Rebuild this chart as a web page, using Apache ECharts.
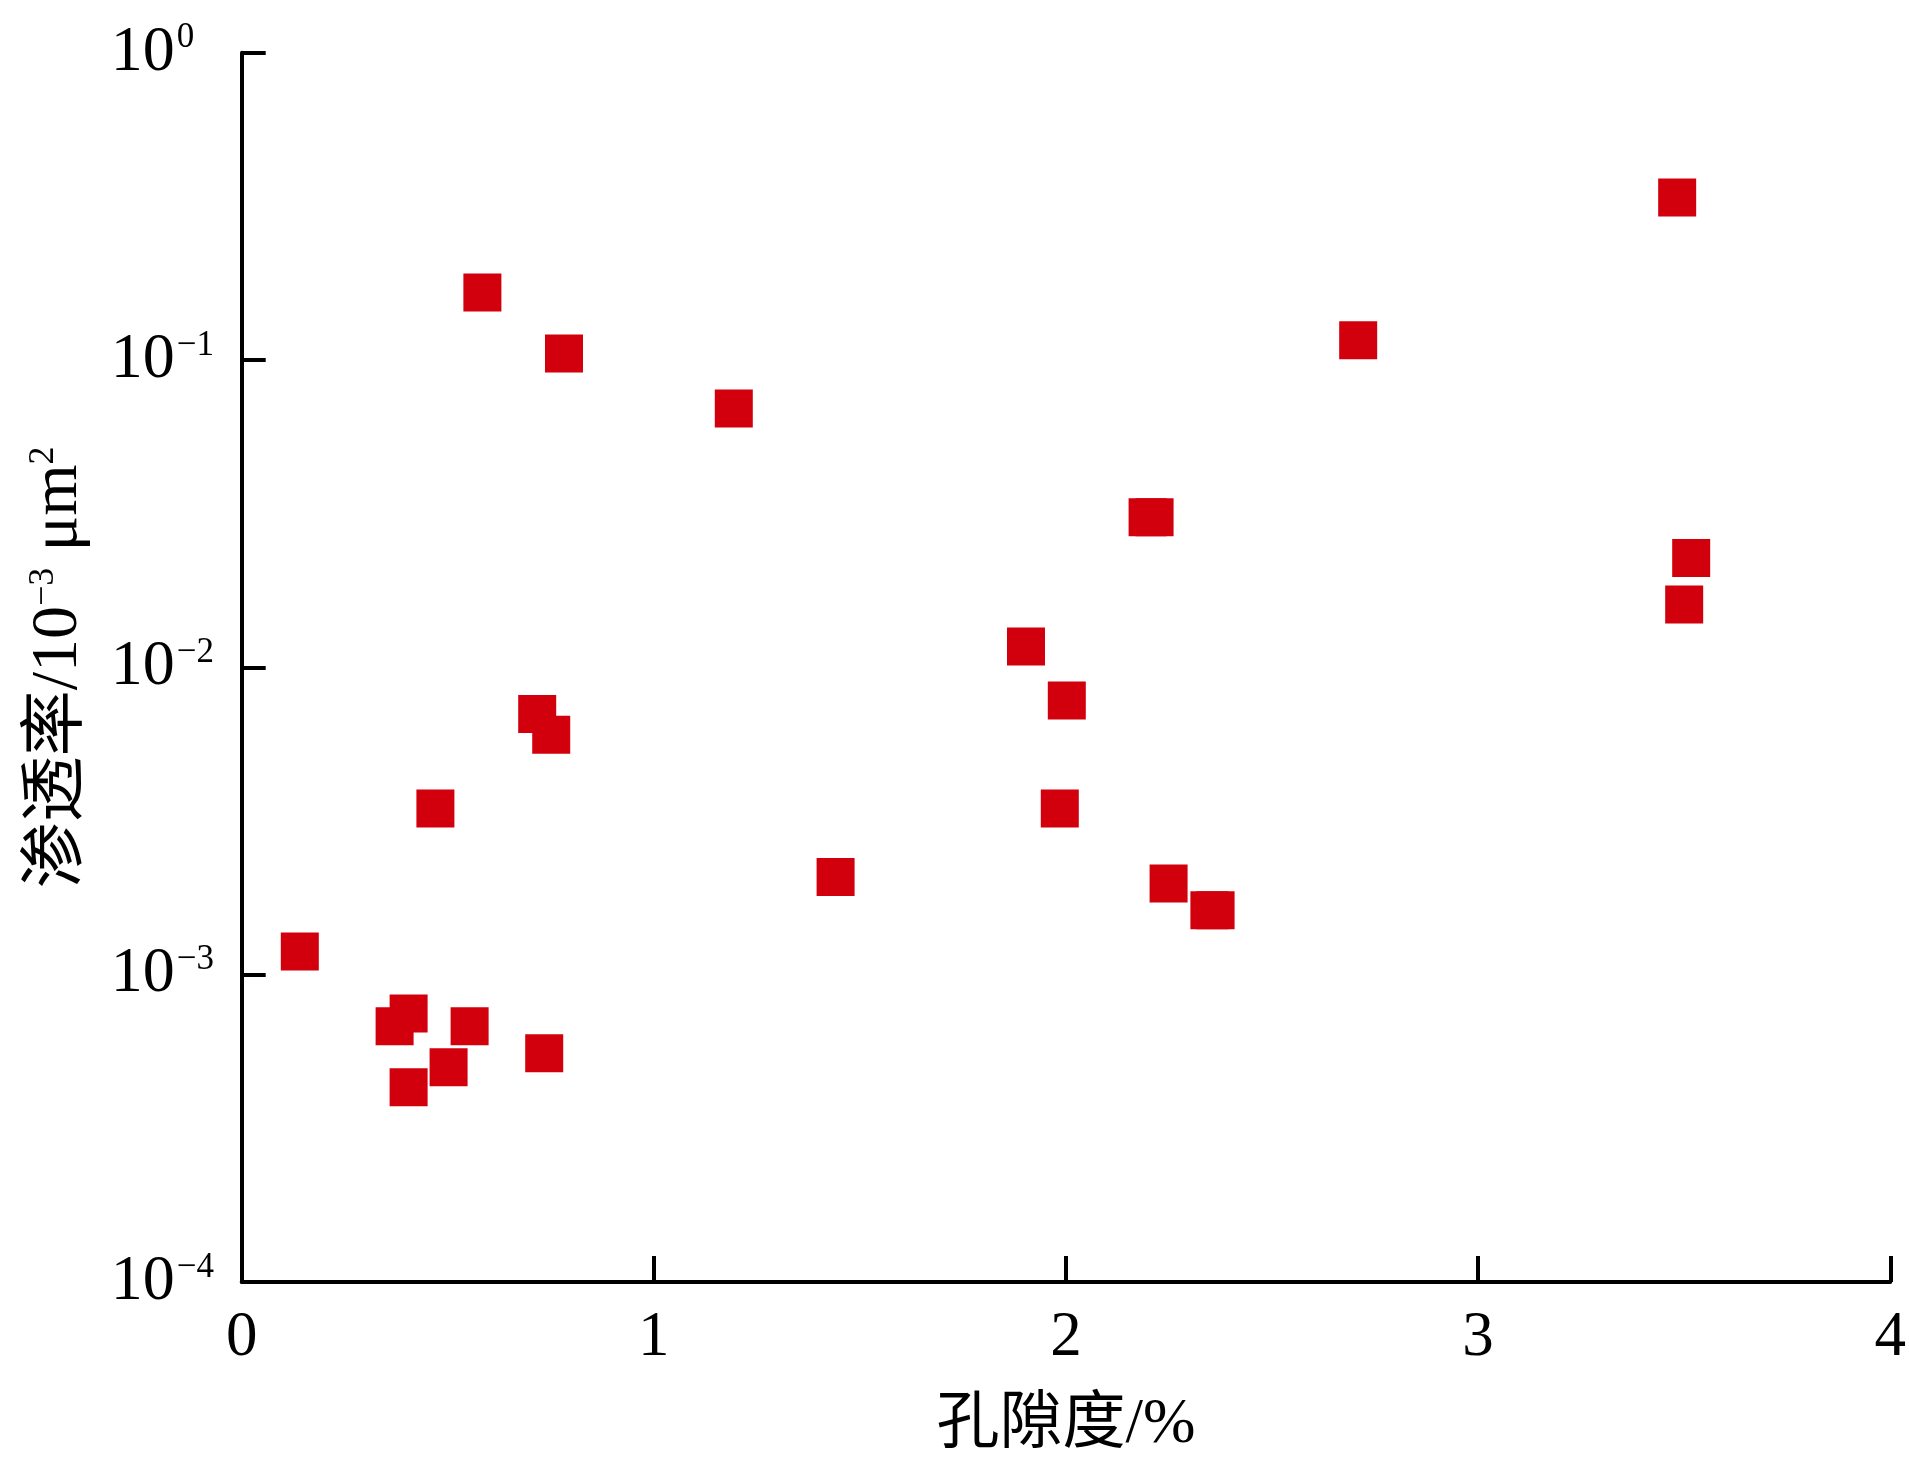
<!DOCTYPE html>
<html>
<head>
<meta charset="utf-8">
<script src="https://cdn.jsdelivr.net/npm/echarts@6/dist/echarts.min.js"></script>
<style>
html,body{margin:0;padding:0;background:#fff;}
#chart{width:1909px;height:1462px;}
</style>
</head>
<body>
<div id="chart"></div>
<script>
// Porosity (%) and permeability (10^-3 μm^2)
const porosity = [0.141, 0.371, 0.405, 0.405, 0.502, 0.553, 0.734, 0.470, 0.717, 0.751, 0.584, 0.782, 1.194, 1.441, 1.903, 2.002, 1.985, 2.198, 2.215, 2.249, 2.348, 2.363, 2.709, 3.483, 3.517, 3.500];
const permeability = [0.00119, 0.000679, 0.000748, 0.000430, 0.000500, 0.000679, 0.000555, 0.00347, 0.00705, 0.00603, 0.166, 0.105, 0.0696, 0.00208, 0.0117, 0.0078, 0.00347, 0.0308, 0.0308, 0.00198, 0.00162, 0.00162, 0.116, 0.338, 0.0227, 0.0160];
const xTicks = [0, 1, 2, 3, 4];
const yExponents = [0, -1, -2, -3, -4];
const xTitle = '孔隙度/%';
const yTitleParts = ['渗透率/10', '−3', ' μm', '2'];

const FONT = '"Liberation Serif", "Noto Sans CJK SC", serif';
const chart = echarts.init(document.getElementById('chart'), null, {renderer: 'canvas'});
const data = porosity.map((x, i) => [x, permeability[i]]);

chart.setOption({
  backgroundColor: '#ffffff',
  animation: false,
  grid: {left: 241.7, right: 14.7, top: 52.7, bottom: 178, containLabel: false},
  xAxis: {
    type: 'value',
    min: xTicks[0],
    max: xTicks[xTicks.length - 1],
    interval: 1,
    name: xTitle,
    nameLocation: 'middle',
    nameGap: 112,
    nameTextStyle: {fontFamily: FONT, fontSize: 63, color: '#000'},
    axisLine: {show: true, onZero: false, lineStyle: {color: '#000', width: 4}},
    axisTick: {show: true, inside: true, length: 26, lineStyle: {color: '#000', width: 4}},
    axisLabel: {fontFamily: FONT, fontSize: 63, color: '#000', margin: 25, formatter: v => String(v)},
    splitLine: {show: false}
  },
  yAxis: {
    type: 'log',
    logBase: 10,
    min: Math.pow(10, yExponents[yExponents.length - 1]),
    max: Math.pow(10, yExponents[0]),
    name: '{n|' + yTitleParts[0] + '}{s|' + yTitleParts[1] + '}{n|' + yTitleParts[2] + '}{s|' + yTitleParts[3] + '}',
    nameLocation: 'middle',
    nameGap: 150,
    nameRotate: 90,
    nameTextStyle: {
      fontFamily: FONT, fontSize: 66, color: '#000',
      rich: {
        n: {fontFamily: FONT, fontSize: 66, color: '#000'},
        s: {fontFamily: FONT, fontSize: 36, color: '#000', verticalAlign: 'top'}
      }
    },
    axisLine: {show: true, onZero: false, lineStyle: {color: '#000', width: 4}},
    axisTick: {show: true, inside: true, length: 24, lineStyle: {color: '#000', width: 4}},
    axisLabel: {
      align: 'left',
      margin: 131,
      formatter: function (v) {
        const e = Math.round(Math.log10(v));
        const s = e < 0 ? '−' + Math.abs(e) : String(e);
        return '{b|10}{s|' + s + '}';
      },
      rich: {
        b: {fontFamily: FONT, fontSize: 64, color: '#000'},
        s: {fontFamily: FONT, fontSize: 35, color: '#000', verticalAlign: 'top', padding: [0, 0, 0, 2]}
      }
    },
    splitLine: {show: false},
    minorTick: {show: false}
  },
  series: [{
    type: 'scatter',
    data: data,
    symbol: 'rect',
    symbolSize: 38,
    itemStyle: {color: '#D2000D', opacity: 1},
    clip: false
  }]
});
</script>
</body>
</html>
